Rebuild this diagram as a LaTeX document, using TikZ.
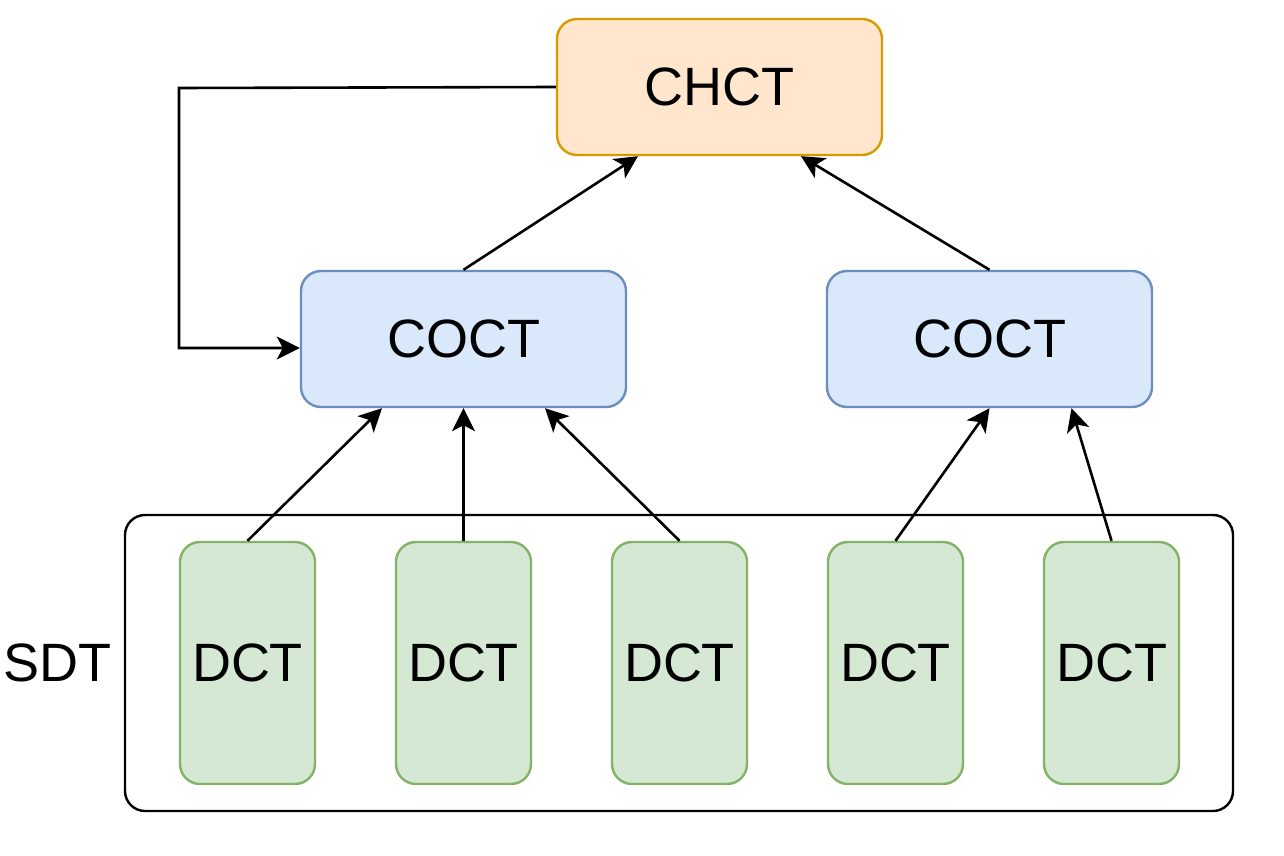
\documentclass[tikz,border=0pt]{standalone}
\usepackage{fontspec}
\setmainfont{Liberation Sans}
\usetikzlibrary{arrows.meta,calc}
\definecolor{orfill}{HTML}{FFE6CC}
\definecolor{ordraw}{HTML}{D79B00}
\definecolor{blfill}{HTML}{DAE8FC}
\definecolor{bldraw}{HTML}{6C8EBF}
\definecolor{grfill}{HTML}{D5E8D4}
\definecolor{grdraw}{HTML}{82B366}
\tikzset{
  box/.style={rectangle, rounded corners=20pt, line width=2.4pt, inner sep=0pt,
    font=\fontsize{54}{60}\selectfont},
  chctbox/.style={box, fill=orfill, draw=ordraw, minimum width=325pt, minimum height=136pt},
  coctbox/.style={box, fill=blfill, draw=bldraw, minimum width=325pt, minimum height=136pt},
  dctbox/.style={box, fill=grfill, draw=grdraw, minimum width=135pt, minimum height=242pt},
  sdtbox/.style={box, fill=white, draw=black, minimum width=1108pt, minimum height=296pt},
  conn/.style={line width=2.6pt, draw=black, -{Stealth[length=23pt, width=23pt, inset=6pt]}},
  lbl/.style={inner sep=0pt, font=\fontsize{54}{60}\selectfont}
}
\begin{document}
\begin{tikzpicture}[x=1pt,y=-1pt]
\useasboundingbox (0,0) rectangle (1284,856);
\fill[white] (0,0) rectangle (1284,856);
\node[sdtbox] (sdt) at (679,663) {};
\node[lbl] (sdtl) at (57,663) {SDT};
\node[chctbox] (chct) at (719.5,87) {CHCT};
\node[coctbox] (cocl) at (463.5,339) {COCT};
\node[coctbox] (cocr) at (989.5,339) {COCT};
\node[dctbox] (d1) at (247.5,663) {DCT};
\node[dctbox] (d2) at (463.5,663) {DCT};
\node[dctbox] (d3) at (679.5,663) {DCT};
\node[dctbox] (d4) at (895.5,663) {DCT};
\node[dctbox] (d5) at (1111.5,663) {DCT};
\coordinate (bend1) at (179,88);
\draw[conn] (d1.north) -- ($(cocl.south)+(-81.5,0)$);
\draw[conn] (d2.north) -- (cocl.south);
\draw[conn] (d3.north) -- ($(cocl.south)+(81.5,0)$);
\draw[conn] (d4.north) -- (cocr.south);
\draw[conn] (d5.north) -- ($(cocr.south)+(82,0)$);
\draw[conn] (cocl.north) -- ($(chct.south)+(-81.5,0)$);
\draw[conn] (cocr.north) -- ($(chct.south)+(81.5,0)$);
\draw[conn] (chct.west) -- (bend1) |- ($(cocl.west)+(0,9)$);
\end{tikzpicture}
\end{document}
